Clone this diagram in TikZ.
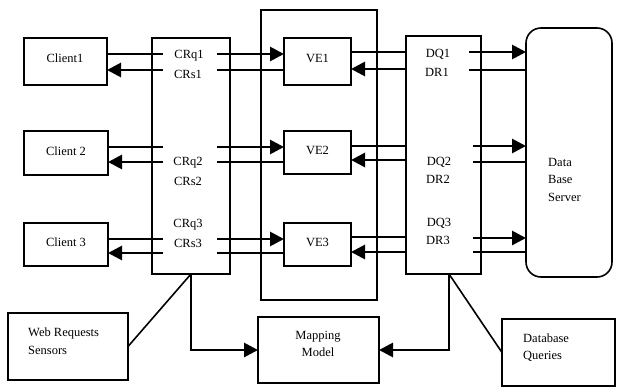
\documentclass[tikz,border=0pt]{standalone}
\usepackage{fontspec}
\setmainfont{Liberation Serif}
\usetikzlibrary{arrows.meta}
\begin{document}
\begin{tikzpicture}[x=1pt,y=-1pt,
  box/.style={draw,line width=1.6pt,inner sep=0pt,outer sep=0pt},
  lbl/.style={font=\fontsize{12.5}{17.5}\selectfont,inner sep=0pt},
  thinln/.style={line width=1.6pt},
  arr/.style={line width=2.8pt,-{Triangle[length=14pt,width=14pt]}},
]
\useasboundingbox (0,0) rectangle (617,388);
% boxes
\node[box,minimum width=83pt,minimum height=47pt] (c1) at (65.5,61.5) {};
\node[box,minimum width=84pt,minimum height=44pt] (c2) at (66,153) {};
\node[box,minimum width=84pt,minimum height=43pt] (c3) at (66,244.5) {};
\node[box,minimum width=78pt,minimum height=236pt] (cr) at (191,156) {};
\node[box,minimum width=116pt,minimum height=290pt] (veo) at (319,155) {};
\node[box,minimum width=67pt,minimum height=47pt] (ve1) at (317.5,61.5) {};
\node[box,minimum width=67pt,minimum height=43pt] (ve2) at (317.5,152.5) {};
\node[box,minimum width=67pt,minimum height=43pt] (ve3) at (317.5,244.5) {};
\node[box,minimum width=75pt,minimum height=238pt] (dq) at (443.5,155) {};
\node[box,rounded corners=15pt,minimum width=86pt,minimum height=249pt] (db) at (569,152.5) {};
\node[box,minimum width=120pt,minimum height=67pt] (web) at (68,346.5) {};
\node[box,minimum width=121pt,minimum height=66pt] (map) at (318.5,350) {};
\node[box,minimum width=113pt,minimum height=67pt] (dbq) at (558.5,352.5) {};
% labels
\node[lbl] (t1) at (65,58) {Client1};
\node[lbl] (t2) at (66,151) {Client 2};
\node[lbl] (t3) at (66,242) {Client 3};
\node[lbl] (v1) at (317.5,58) {VE1};
\node[lbl] (v2) at (317.5,150) {VE2};
\node[lbl] (v3) at (317.5,242) {VE3};
\node[lbl] (q1) at (189,56) {CRq1};
\node[lbl] (s1) at (188,74) {CRs1};
\node[lbl] (q2) at (188,163) {CRq2};
\node[lbl] (s2) at (188,181) {CRs2};
\node[lbl] (q3) at (188,225) {CRq3};
\node[lbl] (s3) at (188,243) {CRs3};
\node[lbl] (d1) at (438,54) {DQ1};
\node[lbl] (r1) at (437,72) {DR1};
\node[lbl] (d2) at (439,162) {DQ2};
\node[lbl] (r2) at (438,179) {DR2};
\node[lbl] (d3) at (439,223) {DQ3};
\node[lbl] (r3) at (438,240) {DR3};
\node[lbl,anchor=west,align=left] (dbt) at (548,179.5) {Data\\Base\\Server};
\node[lbl,anchor=west,align=left] (webt) at (28,341) {Web Requests\\Sensors};
\node[lbl,align=center] (mapt) at (318,344) {Mapping\\Model};
\node[lbl,anchor=west,align=left] (dbqt) at (523,347.5) {Database\\Queries};
% client <-> CR
\draw[thinln] (c1.east |- 0,54) -- (163,54);
\draw[arr] (163,70) -- (c1.east |- 0,70);
\draw[arr] (217,54) -- (ve1.west |- 0,54);
\draw[thinln] (217,70) -- (ve1.west |- 0,70);
\draw[thinln] (c2.east |- 0,147) -- (163,147);
\draw[arr] (163,162) -- (c2.east |- 0,162);
\draw[arr] (217,147) -- (ve2.west |- 0,147);
\draw[thinln] (217,162) -- (ve2.west |- 0,162);
\draw[thinln] (c3.east |- 0,239) -- (163,239);
\draw[arr] (163,253) -- (c3.east |- 0,253);
\draw[arr] (217,239) -- (ve3.west |- 0,239);
\draw[thinln] (217,253) -- (ve3.west |- 0,253);
% VE <-> DQ <-> DB
\draw[thinln] (ve1.east |- 0,52) -- (dq.west |- 0,52);
\draw[arr] (dq.west |- 0,69) -- (ve1.east |- 0,69);
\draw[arr] (469,52) -- (db.west |- 0,52);
\draw[thinln] (469,70) -- (db.west |- 0,70);
\draw[thinln] (ve2.east |- 0,146) -- (dq.west |- 0,146);
\draw[arr] (dq.west |- 0,160) -- (ve2.east |- 0,160);
\draw[arr] (473,146) -- (db.west |- 0,146);
\draw[thinln] (473,162) -- (db.west |- 0,162);
\draw[thinln] (ve3.east |- 0,237) -- (dq.west |- 0,237);
\draw[arr] (dq.west |- 0,252) -- (ve3.east |- 0,252);
\draw[arr] (473,238) -- (db.west |- 0,238);
\draw[thinln] (473,252) -- (db.west |- 0,252);
% bottom
\draw[arr] (cr.south) |- (map.west);
\draw[arr] ([xshift=5.5pt]dq.south) |- (map.east);
\draw[thinln] (cr.south) -- (web.east);
\draw[thinln] ([xshift=5.5pt]dq.south) -- (dbq.west);
\end{tikzpicture}
\end{document}
